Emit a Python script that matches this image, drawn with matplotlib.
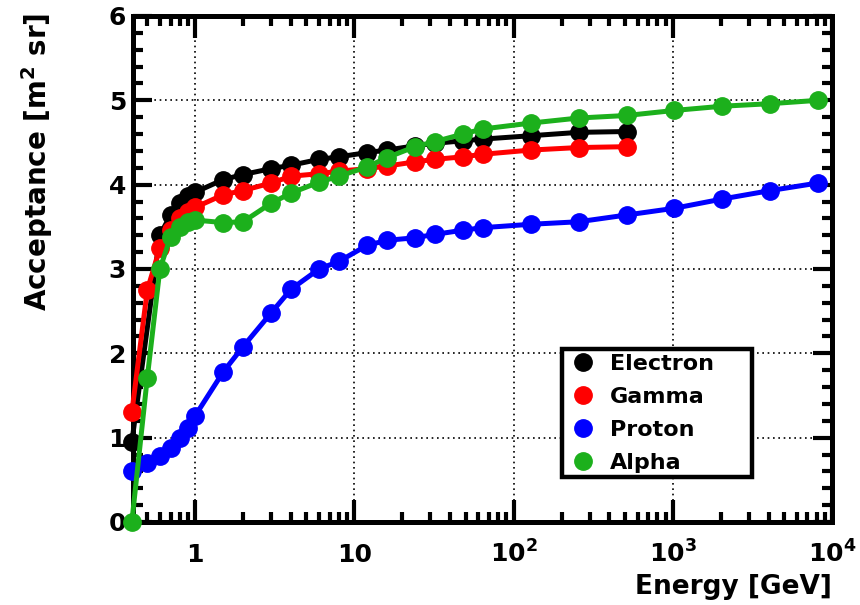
import matplotlib
matplotlib.use("Agg")
import matplotlib.pyplot as plt
from matplotlib.ticker import FixedLocator, FixedFormatter, LogLocator, MultipleLocator, NullFormatter
from matplotlib.lines import Line2D

# ---- data: acceptance vs. energy for each particle species ----
electron_energy = [0.4, 0.6, 0.7, 0.8, 0.9, 1.0, 1.5, 2, 3, 4, 6, 8, 12, 16, 24, 32, 48, 64, 128, 256, 512]
electron_acc = [0.95, 3.40, 3.64, 3.78, 3.86, 3.91, 4.06, 4.12, 4.19, 4.23, 4.30, 4.33, 4.38, 4.41, 4.46,
                4.49, 4.52, 4.54, 4.58, 4.62, 4.63]

gamma_energy = [0.4, 0.5, 0.6, 0.7, 0.8, 0.9, 1.0, 1.5, 2, 3, 4, 6, 8, 12, 16, 24, 32, 48, 64, 128, 256, 512]
gamma_acc = [1.30, 2.75, 3.25, 3.46, 3.60, 3.68, 3.73, 3.88, 3.93, 4.02, 4.10, 4.13, 4.16, 4.19, 4.22,
             4.27, 4.30, 4.33, 4.36, 4.41, 4.44, 4.45]

proton_energy = [0.4, 0.5, 0.6, 0.7, 0.8, 0.9, 1.0, 1.5, 2, 3, 4, 6, 8, 12, 16, 24, 32, 48, 64, 128, 256,
                 512, 1024, 2048, 4096, 8192]
proton_acc = [0.60, 0.70, 0.78, 0.88, 1.00, 1.12, 1.26, 1.78, 2.08, 2.48, 2.76, 3.00, 3.09, 3.28, 3.34,
              3.37, 3.41, 3.46, 3.49, 3.53, 3.56, 3.64, 3.72, 3.83, 3.93, 4.02]

alpha_energy = [0.4, 0.5, 0.6, 0.7, 0.8, 0.9, 1.0, 1.5, 2, 3, 4, 6, 8, 12, 16, 24, 32, 48, 64, 128, 256,
                512, 1024, 2048, 4096, 8192]
alpha_acc = [0.00, 1.71, 3.00, 3.38, 3.50, 3.56, 3.58, 3.55, 3.56, 3.78, 3.90, 4.03, 4.10, 4.21, 4.32,
             4.45, 4.51, 4.60, 4.66, 4.73, 4.79, 4.82, 4.88, 4.93, 4.96, 5.00]

series_names = ["Electron", "Gamma", "Proton", "Alpha"]
series_colors = ["#000000", "#ff0000", "#0000ff", "#1cb01c"]

x_tick_values = [1, 10, 100, 1000, 10000]
x_tick_labels = ["1", "10", r"$10^{2}$", r"$10^{3}$", r"$10^{4}$"]
y_tick_values = [0, 1, 2, 3, 4, 5, 6]
y_tick_labels = ["0", "1", "2", "3", "4", "5", "6"]

# ---- style ----
plt.rcParams["font.family"] = ["DejaVu Sans"]
plt.rcParams["font.weight"] = "bold"
plt.rcParams["mathtext.fontset"] = "dejavusans"
plt.rcParams["mathtext.default"] = "bf"

fig = plt.figure(figsize=(8.6, 6.05), dpi=100)
ax = fig.add_axes([0.1547, 0.1372, 0.8128, 0.8364])

datasets = [(electron_energy, electron_acc), (gamma_energy, gamma_acc),
            (proton_energy, proton_acc), (alpha_energy, alpha_acc)]
for (xs, ys), name, col in zip(datasets, series_names, series_colors):
    ax.plot(xs, ys, color=col, lw=3.6, marker="o", ms=12.5, mec=col, mfc=col,
            label=name, clip_on=False, zorder=3)

ax.set_xscale("log")
ax.set_xlim(0.407, 1.0e4)
ax.set_ylim(0, 6)

# ticks
ax.xaxis.set_major_locator(FixedLocator(x_tick_values))
ax.xaxis.set_major_formatter(FixedFormatter(x_tick_labels))
ax.xaxis.set_minor_locator(LogLocator(base=10, subs=range(2, 10), numticks=20))
ax.xaxis.set_minor_formatter(NullFormatter())
ax.yaxis.set_major_locator(FixedLocator(y_tick_values))
ax.yaxis.set_major_formatter(FixedFormatter(y_tick_labels))
ax.yaxis.set_minor_locator(MultipleLocator(0.2))

ax.tick_params(which="both", direction="in", top=True, right=True, width=3, color="black")
ax.tick_params(axis="x", which="major", length=16, labelsize=18, pad=29)
ax.tick_params(axis="x", which="minor", length=7)
ax.tick_params(axis="y", which="major", length=14, labelsize=18, pad=5)
ax.tick_params(axis="y", which="minor", length=7)
for lbl in ax.get_xticklabels():
    lbl.set_verticalalignment("baseline")
    lbl.set_fontweight("bold")
for lbl in ax.get_yticklabels():
    lbl.set_fontweight("bold")

for sp in ax.spines.values():
    sp.set_linewidth(3.6)

ax.grid(True, which="major", color="black", lw=1.2, linestyle=(0, (1, 2.2)))
ax.set_axisbelow(True)

# axis titles
ax.set_xlabel("Energy [GeV]", fontsize=19, fontweight="bold", loc="right")
ax.xaxis.set_label_coords(1.0, -0.103)
ax.set_ylabel(r"Acceptance [m$^{2}$ sr]", fontsize=20, fontweight="bold", loc="top")
ax.yaxis.set_label_coords(-0.111, 1.006)

# legend with marker-only entries
handles = [Line2D([], [], linestyle="none", marker="o", ms=12.5, color=c) for c in series_colors]
leg = ax.legend(handles, series_names, loc="lower left",
                bbox_to_anchor=(0.614, 0.089, 0.272, 0.257), mode="expand",
                prop={"size": 16, "weight": "bold"}, frameon=True, fancybox=False,
                framealpha=1.0, borderaxespad=0, borderpad=0.2, labelspacing=0.58,
                handlelength=1.5, handletextpad=0.45)
leg.get_frame().set_edgecolor("black")
leg.get_frame().set_linewidth(3.2)
leg.set_zorder(5)

fig.savefig("out.png", dpi=100)
